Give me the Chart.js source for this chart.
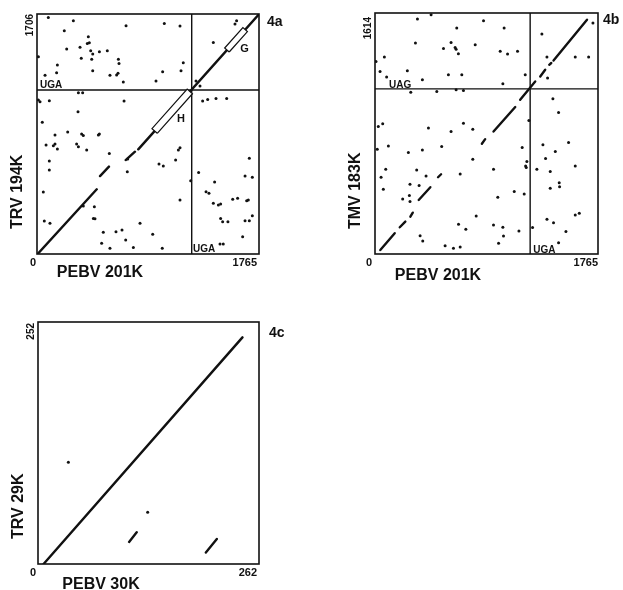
<!DOCTYPE html>
<html>
<head>
<meta charset="utf-8">
<script src="https://cdn.jsdelivr.net/npm/chart.js@4.4.0/dist/chart.umd.min.js"></script>
<style>
  body { margin: 0; background: #fff; width: 623px; height: 590px; position: relative; overflow: hidden; }
  canvas { position: absolute; }
</style>
</head>
<body>
<canvas id="fig4a" width="311" height="290" style="left:0;top:0"></canvas>
<canvas id="fig4b" width="312" height="290" style="left:311px;top:0"></canvas>
<canvas id="fig4c" width="311" height="295" style="left:0;top:295px"></canvas>
<script>
  const INK = '#111';
  const FONT = '"Liberation Sans", Arial, Helvetica, sans-serif';

  // --- 4a: PEBV 201K (x) vs TRV 194K (y) ---
  const xMaxA = 1765, yMaxA = 1706;
  const xTicksA = ['0', '1765'];
  const yTickA = '1706';
  const stopXA = 1230, stopYA = 1166;
  const diagA = [
    [[10, 5], [475, 460]],
    [[501, 554], [572, 621]],
    [[705, 668], [779, 727]],
    [[805, 744], [1759, 1699]]
  ];
  const boxGA = [[1528, 1436], [1673, 1581], [1637, 1609], [1492, 1464]];
  const boxHA = [[956, 858], [1236, 1139], [1194, 1172], [914, 891]];
  const dotsA = [
    [90,1682],[289,1658],[708,1623],[1012,1639],[1137,1620],[217,1587],[408,1545],[400,1497],[416,1502],
    [342,1469],[236,1457],[427,1445],[443,1421],[496,1438],[559,1445],[352,1391],[435,1384],[647,1384],
    [652,1355],[162,1343],[1163,1360],[156,1289],[64,1270],[443,1303],[580,1270],[633,1272],[644,1284],
    [999,1296],[1145,1303],[686,1222],[946,1230],[11,1402],
    [1587,1658],[1574,1635],[1402,1504],[1264,1230],[1296,1194],
    [329,1147],[363,1147],[24,1083],[98,1090],[692,1087],[326,1012],[42,936],[143,846],[244,867],
    [355,853],[368,843],[488,846],[496,853],[72,775],[130,770],[143,782],[162,746],[315,782],[329,763],
    [395,739],[575,715],[1137,756],[1124,739],[98,661],[98,597],[721,675],[718,585],[970,640],[1004,625],
    [1102,668],[50,441],[368,341],[456,336],[448,253],[461,251],[58,235],[103,218],[819,218],[527,154],
    [628,159],[676,171],[920,140],[705,99],[514,76],[580,40],[766,47],[996,40],[1137,384],[1222,521],[11,1094],
    [1317,1087],[1357,1099],[1423,1106],[1508,1106],[1688,680],[1285,580],[1654,554],[1712,545],[1412,512],
    [1344,443],[1367,431],[1402,360],[1442,348],[1460,355],[1556,389],[1595,396],[1667,379],[1680,384],
    [1460,253],[1476,230],[1518,230],[1654,237],[1688,237],[1712,272],[1635,123],[1455,71],[1481,71]
  ];

  // --- 4b: PEBV 201K (x) vs TMV 183K (y) ---
  const xMaxB = 1765, yMaxB = 1614;
  const xTicksB = ['0', '1765'];
  const yTickB = '1614';
  const stopXB = 1228, stopYB = 1106;
  const diagB = [
    [[42, 27], [156, 139]],
    [[196, 179], [240, 217]],
    [[280, 250], [299, 277]],
    [[346, 362], [438, 447]],
    [[499, 514], [523, 534]],
    [[846, 738], [872, 769]],
    [[938, 820], [1110, 984]],
    [[1149, 1033], [1268, 1155]],
    [[1308, 1189], [1347, 1234]],
    [[1379, 1267], [1395, 1279]],
    [[1413, 1296], [1678, 1569]]
  ];
  const dotsB = [
    [336,1573],[444,1603],[859,1562],[1022,1513],[647,1513],[320,1413],[602,1417],[542,1377],[634,1383],
    [642,1372],[660,1341],[793,1401],[991,1357],[1049,1339],[1128,1357],[8,1290],[74,1319],[40,1223],
    [256,1227],[581,1200],[687,1200],[1012,1140],[1189,1200],[375,1167],[92,1185],
    [1321,1473],[1725,1547],[1361,1319],[1585,1319],[1691,1319],[1366,1178],
    [283,1084],[489,1088],[642,1100],[700,1095],[26,854],[61,872],[423,843],[602,820],[700,876],[774,836],
    [18,702],[106,724],[264,679],[375,697],[528,720],[774,635],[1165,713],[85,568],[48,514],[66,434],
    [330,563],[277,467],[349,458],[404,523],[674,536],[938,568],[1192,590],[1202,619],[1197,579],
    [272,391],[277,351],[219,369],[1102,418],[1181,402],[972,380],[801,255],[661,199],[719,165],[938,194],
    [1012,179],[1017,121],[1139,154],[357,123],[378,87],[555,56],[621,38],[674,47],[978,72],[1218,894],
    [1408,1039],[1453,948],[1329,731],[1427,686],[1532,746],[1350,639],[1281,568],[1387,552],[1585,590],
    [1458,478],[1461,451],[1387,440],[1361,232],[1413,210],[1585,261],[1617,273],[1511,150],[1453,76],[1247,177]
  ];

  // --- 4c: PEBV 30K (x) vs TRV 29K (y) ---
  const xMaxC = 262, yMaxC = 252;
  const xTicksC = ['0', '262'];
  const yTickC = '252';
  const diagC = [
    [[6.6, 0], [242.4, 236]],
    [[108, 23], [117, 33]],
    [[199, 12], [212, 26]]
  ];
  const dotsC = [[36, 106], [130, 54]];

  function toPoints(list) {
    return list.map(p => ({ x: p[0], y: p[1] }));
  }

  // segments joined into one dataset, a null y breaks the line
  function joinSegments(segs) {
    const out = [];
    segs.forEach((s, i) => {
      if (i) out.push({ x: s[0][0], y: null });
      s.forEach(p => out.push({ x: p[0], y: p[1] }));
    });
    return out;
  }

  function rotated(ctx, text, x, y, align) {
    ctx.save();
    ctx.translate(x, y);
    ctx.rotate(-Math.PI / 2);
    ctx.textAlign = align;
    ctx.fillText(text, 0, 0);
    ctx.restore();
  }

  const panelText = {
    id: 'panelText',
    afterDatasetsDraw(chart, args, o) {
      const { ctx, chartArea: a, scales } = chart;
      ctx.save();
      ctx.fillStyle = INK;
      ctx.strokeStyle = INK;
      ctx.lineWidth = 1.6;
      ctx.strokeRect(a.left, a.top, a.width, a.height);

      ctx.textBaseline = 'middle';
      ctx.font = `bold 11px ${FONT}`;
      ctx.textAlign = 'center';
      ctx.fillText(o.xTicks[0], a.left + o.zeroDx, a.bottom + 9);
      ctx.textAlign = 'right';
      ctx.fillText(o.xTicks[1], a.right + o.maxDx, a.bottom + 9);
      ctx.font = `bold 10px ${FONT}`;
      rotated(ctx, o.yTick, a.left - 7, a.top + o.yTickDy, 'right');

      ctx.font = `bold 16px ${FONT}`;
      ctx.textAlign = 'center';
      ctx.fillText(o.xTitle, a.left + 63, a.bottom + o.titleDy);
      rotated(ctx, o.yTitle, a.left - 19, a.bottom - 25, 'left');

      ctx.font = `bold 14px ${FONT}`;
      ctx.textAlign = 'left';
      ctx.fillText(o.tag, a.right + o.tagDx, a.top + o.tagDy);

      (o.labels || []).forEach(l => {
        ctx.font = `bold ${l.size || 10}px ${FONT}`;
        ctx.textAlign = l.align || 'left';
        ctx.textBaseline = l.base || 'alphabetic';
        ctx.fillText(l.text, scales.x.getPixelForValue(l.x), scales.y.getPixelForValue(l.y));
      });
      ctx.restore();
    }
  };

  function makePanel(id, p) {
    const datasets = [
      { type: 'scatter', data: toPoints(p.dots), pointRadius: 1.5, pointBorderWidth: 0,
        pointBackgroundColor: INK, order: 1 },
      { type: 'line', data: joinSegments(p.diag), borderColor: INK, borderWidth: 2.4,
        borderCapStyle: 'round', pointRadius: 0, fill: false, order: 4 }
    ];
    if (p.stops) {
      datasets.push({ type: 'line', data: joinSegments([
          [[p.stops[0], 0], [p.stops[0], p.yMax]],
          [[0, p.stops[1]], [p.xMax, p.stops[1]]]
        ]), borderColor: INK, borderWidth: 1.4, pointRadius: 0, fill: false, order: 5 });
    }
    (p.boxes || []).forEach(b => {
      datasets.push({ type: 'line', data: toPoints(b.concat([b[0]])), borderColor: INK, borderWidth: 1.2,
        backgroundColor: '#fff', fill: 'shape', pointRadius: 0, order: 2 });
    });

    return new Chart(document.getElementById(id), {
      type: 'scatter',
      data: { datasets },
      options: {
        responsive: false,
        animation: false,
        events: [],
        layout: { padding: p.pad },
        scales: {
          x: { type: 'linear', min: 0, max: p.xMax, display: false },
          y: { type: 'linear', min: 0, max: p.yMax, display: false }
        },
        plugins: { legend: { display: false }, tooltip: { enabled: false }, panelText: p.text }
      },
      plugins: [panelText]
    });
  }

  makePanel('fig4a', {
    xMax: xMaxA, yMax: yMaxA, dots: dotsA, diag: diagA, stops: [stopXA, stopYA], boxes: [boxGA, boxHA],
    pad: { left: 37, top: 14, right: 52, bottom: 36 },
    text: {
      xTicks: xTicksA, yTick: yTickA, xTitle: 'PEBV 201K', yTitle: 'TRV 194K', tag: '4a',
      zeroDx: -4, maxDx: -2, yTickDy: 0, titleDy: 19, tagDx: 8, tagDy: 8,
      labels: [
        { text: 'UGA', x: 24, y: 1180 },
        { text: 'UGA', x: 1240, y: 11 },
        { text: 'G', x: 1650, y: 1457, size: 11, align: 'center', base: 'middle' },
        { text: 'H', x: 1145, y: 960, size: 11, align: 'center', base: 'middle' }
      ]
    }
  });

  makePanel('fig4b', {
    xMax: xMaxB, yMax: yMaxB, dots: dotsB, diag: diagB, stops: [stopXB, stopYB],
    pad: { left: 64, top: 13, right: 25, bottom: 36 },
    text: {
      xTicks: xTicksB, yTick: yTickB, xTitle: 'PEBV 201K', yTitle: 'TMV 183K', tag: '4b',
      zeroDx: -6, maxDx: 0, yTickDy: 4, titleDy: 22, tagDx: 5, tagDy: 7,
      labels: [
        { text: 'UAG', x: 111, y: 1115 },
        { text: 'UGA', x: 1252, y: 10 }
      ]
    }
  });

  makePanel('fig4c', {
    xMax: xMaxC, yMax: yMaxC, dots: dotsC, diag: diagC,
    pad: { left: 38, top: 27, right: 52, bottom: 26 },
    text: {
      xTicks: xTicksC, yTick: yTickC, xTitle: 'PEBV 30K', yTitle: 'TRV 29K', tag: '4c',
      zeroDx: -5, maxDx: -2, yTickDy: 1, titleDy: 21, tagDx: 10, tagDy: 11,
      labels: []
    }
  });
</script>
</body>
</html>
